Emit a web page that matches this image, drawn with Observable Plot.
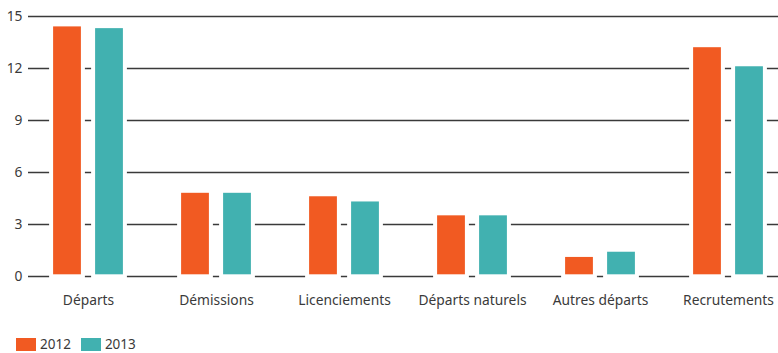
<!DOCTYPE html>
<html>
<head>
<meta charset="utf-8">
<script src="https://cdn.jsdelivr.net/npm/d3@7"></script>
<script src="https://cdn.jsdelivr.net/npm/@observablehq/plot@0.6"></script>
<style>
  body { margin: 0; background: #fff; font-family: "Noto Sans", sans-serif; }
  #chart svg { overflow: visible; }
  .legend { display: flex; align-items: center; padding: 8px 0 0 16px; font-size: 13.5px; line-height: 13px; color: #3a3a3a; height: 13px; }
  .legend .sw { width: 20px; height: 13px; display: inline-block; margin-right: 4px; }
  .legend .item { display: flex; align-items: center; margin-right: 10px; }
</style>
</head>
<body>
<div id="chart"></div>
<div class="legend" id="legend"></div>
<script>
const categories = ["Départs", "Démissions", "Licenciements", "Départs naturels", "Autres départs", "Recrutements"];
const years = ["2012", "2013"];
const values2012 = [14.4, 4.8, 4.6, 3.5, 1.1, 13.2];
const values2013 = [14.3, 4.8, 4.3, 3.5, 1.4, 12.1];
const yTicks = [0, 3, 6, 9, 12, 15];
const colors = ["#F15A22", "#41B1B0"];

const d12 = categories.map((c, i) => ({category: c, year: years[0], value: values2012[i]}));
const d13 = categories.map((c, i) => ({category: c, year: years[1], value: values2013[i]}));

const step = 128.2, barW = 28, gap = 14;
const inA = step / 2 - gap / 2 - barW;   // near edge inset
const inB = step - inA - barW;            // far edge inset
const halo = 4;

const plot = Plot.plot({
  width: 778,
  height: 330,
  marginLeft: 28,
  marginRight: 0,
  marginTop: 16,
  marginBottom: 54,
  style: {fontFamily: "'Noto Sans', sans-serif", fontSize: "13.8px", color: "#3a3a3a", overflow: "visible"},
  x: {domain: categories, range: [23.1, 23.1 + step * 6], padding: 0, label: null},
  y: {domain: [0, 15], ticks: yTicks, label: null},
  marks: [
    Plot.ruleY(yTicks, {stroke: "#3a3a3a", strokeWidth: 1.4}),
    Plot.barY(d12, {x: "category", y: "value", fill: "white", insetLeft: inA - halo, insetRight: inB - halo, insetTop: -halo, insetBottom: -3}),
    Plot.barY(d13, {x: "category", y: "value", fill: "white", insetLeft: inB - halo, insetRight: inA - halo, insetTop: -halo, insetBottom: -3}),
    Plot.barY(d12, {x: "category", y: "value", fill: colors[0], insetLeft: inA, insetRight: inB, insetBottom: 1.7}),
    Plot.barY(d13, {x: "category", y: "value", fill: colors[1], insetLeft: inB, insetRight: inA, insetBottom: 1.7}),
    Plot.axisY({ticks: yTicks, tickSize: 0, tickPadding: 6, label: null}),
    Plot.axisX({tickSize: 0, tickPadding: 19, label: null})
  ]
});
document.getElementById("chart").appendChild(plot);

const legend = document.getElementById("legend");
years.forEach((y, i) => {
  const item = document.createElement("span");
  item.className = "item";
  const sw = document.createElement("span");
  sw.className = "sw";
  sw.style.background = colors[i];
  item.appendChild(sw);
  item.appendChild(document.createTextNode(y));
  legend.appendChild(item);
});
</script>
</body>
</html>
